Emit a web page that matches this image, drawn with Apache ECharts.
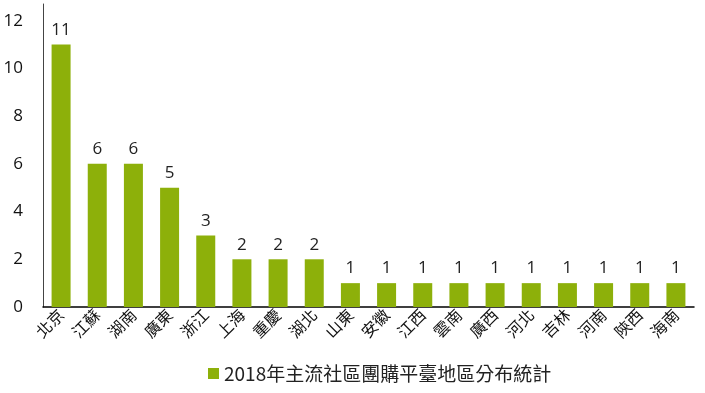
<!DOCTYPE html>
<html><head><meta charset="utf-8">
<script src="https://cdn.jsdelivr.net/npm/echarts@6/dist/echarts.min.js"></script>
<style>html,body{margin:0;padding:0;background:#fff}#c{width:705px;height:393px}</style>
</head><body><div id="c"></div>
<script>
const categories = ['北京','江蘇','湖南','廣東','浙江','上海','重慶','湖北','山東','安徽','江西','雲南','廣西','河北','吉林','河南','陝西','海南'];
const values = [11,6,6,5,3,2,2,2,1,1,1,1,1,1,1,1,1,1];
const seriesName = '2018年主流社區團購平臺地區分布統計';
const yTicks = [0,2,4,6,8,10,12];

const font = "'Noto Sans CJK TC','Open Sans',sans-serif";
const chart = echarts.init(document.getElementById('c'));
chart.setOption({
  animation:false,
  grid:{left:43,right:11,top:4,bottom:86},
  legend:{data:[seriesName],bottom:5,left:203,itemWidth:11,itemHeight:11,itemGap:3,icon:'rect',
    textStyle:{fontSize:19,color:'#222',fontFamily:font}},
  xAxis:{type:'category',data:categories,
    axisLine:{lineStyle:{color:'#000',width:1.5}},axisTick:{show:false},
    axisLabel:{rotate:45,fontSize:16,color:'#111',fontFamily:font,margin:5,interval:0}},
  yAxis:{type:'value',min:0,max:12.7,interval:1,
    axisLine:{show:true,lineStyle:{color:'#444',width:1}},axisTick:{show:false},splitLine:{show:false},
    axisLabel:{fontSize:17,color:'#111',fontFamily:"'Open Sans',sans-serif",margin:20,
      formatter:v=>yTicks.includes(v)?String(v):''}},
  series:[{name:seriesName,type:'bar',data:values,barWidth:19,
    itemStyle:{color:'#8DB00A'},
    label:{show:true,position:'top',fontSize:17,color:'#222',fontFamily:"'Open Sans',sans-serif",distance:6}}]
});
</script></body></html>
